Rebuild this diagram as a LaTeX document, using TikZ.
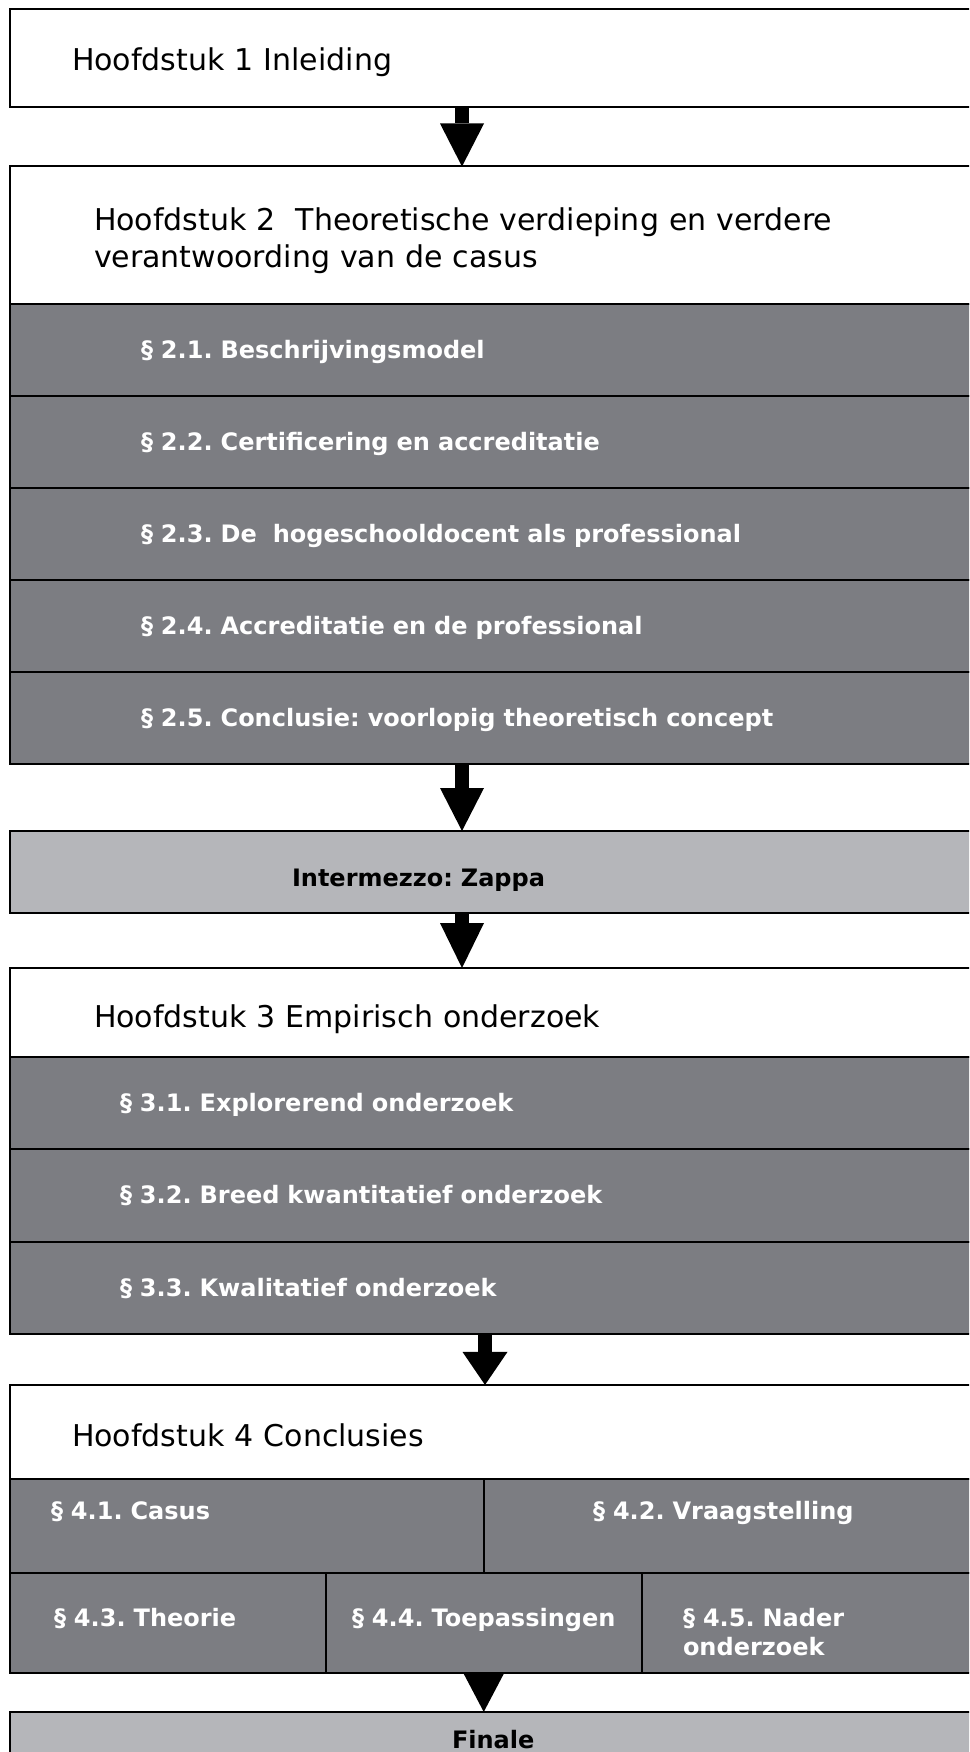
\documentclass[tikz,border=0pt]{standalone}
\usepackage{fontspec}
\setmainfont{DejaVu Sans}
\usepackage{xcolor}
\definecolor{colorVak}{RGB}{124,125,130}
\definecolor{colorTussen}{RGB}{181,182,186}
\usetikzlibrary{arrows.meta, positioning}
\frenchspacing
\tikzset{
  vak/.style 2 args={draw=black, line width=2pt, outer sep=0pt, inner ysep=0pt, align=left,
    inner xsep=#1, text width=#2-2*#1, minimum width=#2},
  kop/.style={vak={#1}{975pt}, fill=white, text height=29pt, text depth=0pt,
    font=\fontsize{30}{37}\selectfont},
  paragraaf/.style={vak={#1}{975pt}, fill=colorVak, text=white, minimum height=92pt,
    text height=18pt, text depth=1pt, font=\fontsize{24}{29}\selectfont\bfseries},
  tussen/.style={vak={#1}{975pt}, fill=colorTussen, text=black,
    text height=18pt, text depth=1pt, font=\fontsize{24}{29}\selectfont\bfseries},
  cel/.style 2 args={vak={#1}{#2}, fill=colorVak, text=white, font=\fontsize{24}{29}\selectfont\bfseries},
  pijl/.style={line width=14pt, -{Triangle[width=44pt, length=43pt, line width=0pt]}}
}

\begin{document}
\begin{tikzpicture}[node distance=0pt]
\useasboundingbox (0,0) rectangle (969pt,-1752pt);
\clip (0,0) rectangle (969pt,-1752pt);
\coordinate (as) at (462pt,0);
\coordinate (as4) at (485pt,0);

% hoofdstuk 1
\node[kop=62pt, minimum height=98pt, text height=26pt, anchor=north west] (hfd1) at (10pt,-9pt) {Hoofdstuk 1 Inleiding};

% hoofdstuk 2
\node[kop=84pt, minimum height=137.5pt, text height=22pt, text depth=32pt, below=59.5pt of hfd1] (hfd2) {Hoofdstuk 2~~Theoretische verdieping en verdere\\verantwoording van de casus};
\node[paragraaf=131pt, below=of hfd2] (par21) {§ 2.1. Beschrijvingsmodel};
\node[paragraaf=131pt, below=of par21] (par22) {§ 2.2. Certificering en accreditatie};
\node[paragraaf=131pt, below=of par22] (par23) {§ 2.3. De~~hogeschooldocent als professional};
\node[paragraaf=131pt, below=of par23] (par24) {§ 2.4. Accreditatie en de professional};
\node[paragraaf=131pt, below=of par24] (par25) {§ 2.5. Conclusie: voorlopig theoretisch concept};

% intermezzo
\node[tussen=282pt, minimum height=82pt, text height=29pt, below=67pt of par25] (intermezzo) {Intermezzo: Zappa};

% hoofdstuk 3
\node[kop=84pt, minimum height=89pt, below=55pt of intermezzo] (hfd3) {Hoofdstuk 3 Empirisch onderzoek};
\node[paragraaf=110pt, minimum height=92.3pt, below=of hfd3] (par31) {§ 3.1. Explorerend onderzoek};
\node[paragraaf=110pt, minimum height=92.3pt, below=of par31] (par32) {§ 3.2. Breed kwantitatief onderzoek};
\node[paragraaf=110pt, minimum height=92.3pt, below=of par32] (par33) {§ 3.3. Kwalitatief onderzoek};

% hoofdstuk 4
\node[kop=62pt, minimum height=94pt, below=51pt of par33] (hfd4) {Hoofdstuk 4 Conclusies};
\node[cel={41pt}{474pt}, text height=41pt, text depth=53pt, below=of hfd4.south west, anchor=north west] (par41) {§ 4.1. Casus};
\node[cel={109pt}{501pt}, text height=41pt, text depth=53pt, right=of par41] (par42) {§ 4.2. Vraagstelling};
\node[cel={44pt}{316pt}, text height=53.7pt, text depth=46.3pt, below=of par41.south west, anchor=north west] (par43) {§ 4.3. Theorie};
\node[cel={26pt}{315.5pt}, text height=53.7pt, text depth=46.3pt, right=of par43] (par44) {§ 4.4. Toepassingen};
\node[cel={41.5pt}{343.5pt}, text height=53.7pt, text depth=46.3pt, right=of par44] (par45) {§ 4.5. Nader\\onderzoek};

% finale
\node[tussen=442pt, minimum height=56pt, below=39pt of par43.south west, anchor=north west] (finale) {Finale};

% pijlen
\draw[pijl] (hfd1.south -| as) -- (hfd2.north -| as);
\draw[pijl] (par25.south -| as) -- (intermezzo.north -| as);
\draw[pijl, -{Triangle[width=44pt, length=45pt, line width=0pt]}] (intermezzo.south -| as) -- (hfd3.north -| as);
\draw[pijl, -{Triangle[width=45pt, length=33pt, line width=0pt]}] (par33.south -| as4) -- (hfd4.north -| as4);
\draw[pijl, -{Triangle[width=41pt, length=39pt, line width=0pt]}] (par44.south) -- (finale.north -| par44.south);
\end{tikzpicture}
\end{document}
